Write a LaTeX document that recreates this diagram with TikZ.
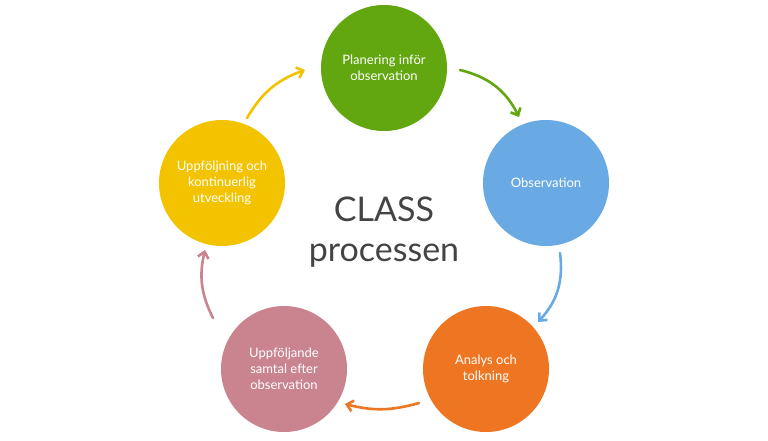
\documentclass[tikz,border=0pt]{standalone}
\usepackage{fontspec}
\setmainfont{Lato}
\usetikzlibrary{arrows.meta}
\definecolor{cgreen}{HTML}{62A70F}
\definecolor{cblue}{HTML}{6AAAE4}
\definecolor{corange}{HTML}{EE7623}
\definecolor{cpink}{HTML}{C9848F}
\definecolor{cyellow}{HTML}{F3C300}
\definecolor{ctext}{HTML}{444444}
\tikzset{
  phase/.style={circle, minimum size=126pt, inner sep=0pt, text=white,
    align=center, font=\fontsize{13}{16}\selectfont},
  arr/.style={line width=2.6pt, -{Straight Barb[length=6pt,width=11pt]}, line cap=round}
}
\begin{document}
\begin{tikzpicture}[x=1pt,y=-1pt]
\useasboundingbox (0,0) rectangle (768,440);

% circles
\node[phase, fill=cgreen]  (plan) at (384,68)  {Planering inför\\observation};
\node[phase, fill=cblue]   (obs)  at (546,183) {Observation};
\node[phase, fill=corange] (ana)  at (486,369) {Analys och\\tolkning};
\node[phase, fill=cpink]   (samt) at (284,369) {Uppföljande\\samtal efter\\observation};
\node[phase, fill=cyellow] (upp)  at (222,183) {Uppföljning och\\kontinuerlig\\utveckling};

\node[text=ctext, align=center, font=\fontsize{34}{40}\selectfont] (title) at (384,232) {CLASS\\processen};

% arrow ends
\coordinate (a1) at (460,70);  \coordinate (b1) at (519,117);
\coordinate (a2) at (560,253); \coordinate (b2) at (538,322);
\coordinate (a3) at (419,403); \coordinate (b3) at (345,404);
\coordinate (a4) at (213,318); \coordinate (b4) at (205,250);
\coordinate (a5) at (247,118); \coordinate (b5) at (305,70);

\draw[arr, cgreen]  (a1) to[bend left=25] (b1);
\draw[arr, cblue]   (a2) to[bend left=25] (b2);
\draw[arr, corange] (a3) to[bend left=15] (b3);
\draw[arr, cpink]   (a4) to[bend left=20] (b4);
\draw[arr, cyellow] (a5) to[bend left=20] (b5);
\end{tikzpicture}
\end{document}
